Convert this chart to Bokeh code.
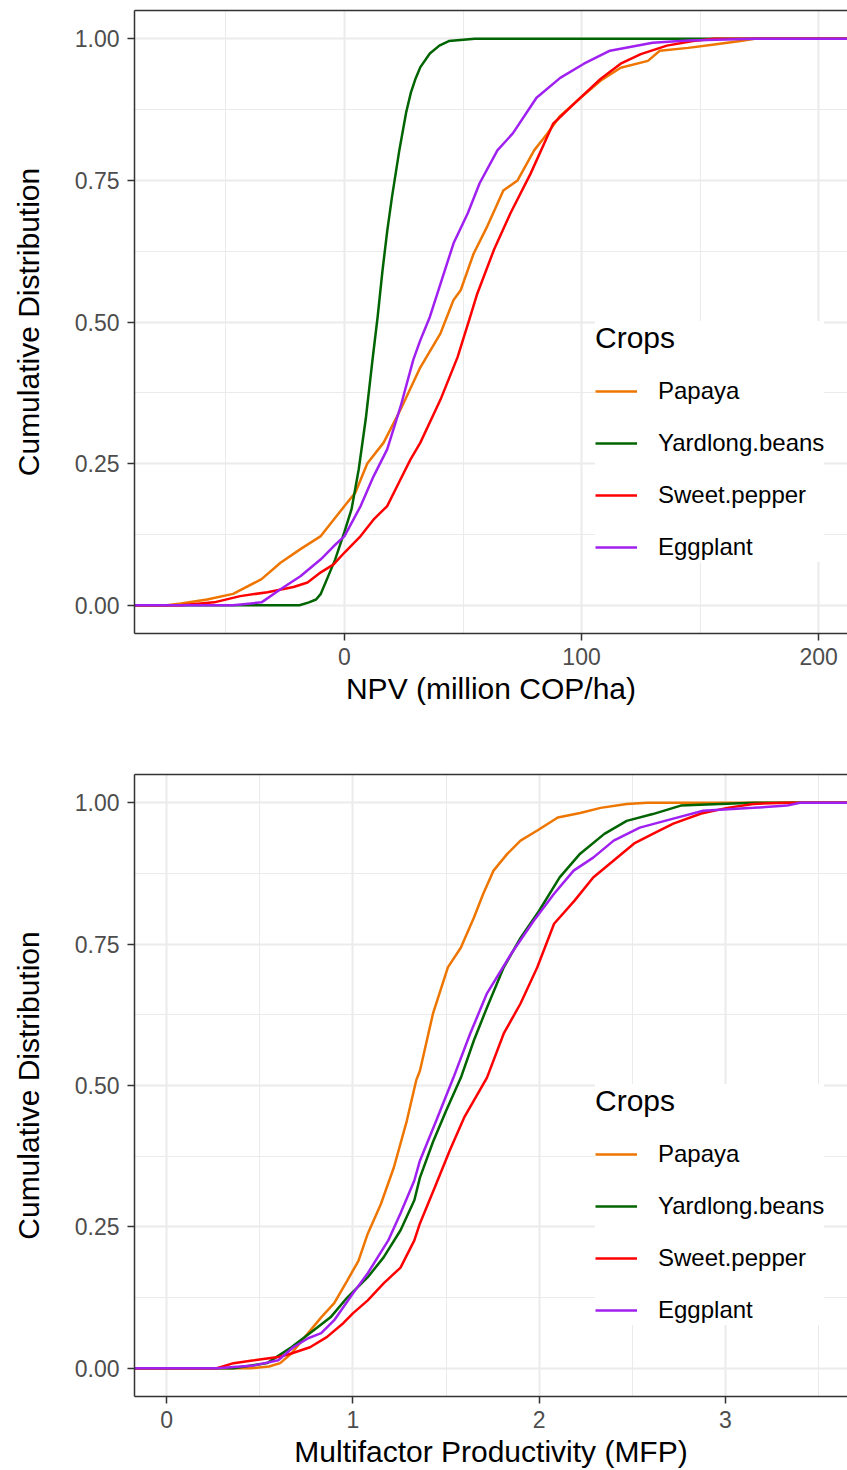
from bokeh.plotting import figure
from bokeh.layouts import column
from bokeh.models import FixedTicker, Range1d, LinearAxis, Legend, LegendItem, NumeralTickFormatter
from bokeh.embed import file_html
from bokeh.resources import INLINE

crops = ["Papaya", "Yardlong.beans", "Sweet.pepper", "Eggplant"]
colors = ["#EE7600", "#006400", "#FF0000", "#A020F0"]

npv_papaya_x = [-100, -75, -69, -58, -47, -35, -27, -18.6, -10, -4.6, 0, 4.6, 9.6, 16.5, 23.6, 32, 40.5, 46, 49, 54.4,
                60, 67, 73, 80, 85.6, 91, 99.6, 108, 116.5, 128, 133, 145, 156, 167, 173, 230]
npv_papaya_y = [0, 0, 0.003, 0.01, 0.02, 0.046, 0.075, 0.099, 0.122, 0.151, 0.175, 0.199, 0.25, 0.287, 0.345, 0.42,
                0.48, 0.539, 0.556, 0.62, 0.667, 0.732, 0.75, 0.803, 0.833, 0.864, 0.896, 0.926, 0.949, 0.961, 0.979,
                0.984, 0.99, 0.996, 1.0, 1.0]
npv_yard_x = [-100, -19, -15, -12, -10, -7, -4, 0, 3, 6, 9, 12, 14, 16, 18, 20, 23, 26, 28, 30, 32, 36, 40, 44, 55, 230]
npv_yard_y = [0, 0, 0.005, 0.01, 0.02, 0.05, 0.08, 0.13, 0.17, 0.24, 0.33, 0.44, 0.51, 0.59, 0.66, 0.72, 0.80, 0.87,
              0.905, 0.93, 0.95, 0.974, 0.988, 0.996, 1.0, 1.0]
npv_pepper_x = [-100, -69, -55, -44, -32.5, -21.5, -15.6, -10, -4.6, 0, 6.8, 12.2, 18, 23.6, 27.8, 32, 40.5, 47.7, 53,
                56, 63, 70, 78.5, 88, 98, 108, 116.5, 125, 136, 147, 156, 230]
npv_pepper_y = [0, 0, 0.005, 0.016, 0.023, 0.032, 0.04, 0.058, 0.072, 0.093, 0.122, 0.151, 0.175, 0.222, 0.257, 0.287,
                0.363, 0.438, 0.509, 0.55, 0.627, 0.692, 0.762, 0.85, 0.89, 0.929, 0.956, 0.973, 0.988, 0.996, 1.0, 1.0]
npv_egg_x = [-100, -47, -35, -27, -18.6, -10, -4.6, 0, 6.8, 12.2, 18, 23.6, 29, 32, 36, 46, 52, 57, 64.5, 71, 81, 91,
             101, 112, 130, 145, 173, 230]
npv_egg_y = [0, 0, 0.005, 0.028, 0.051, 0.081, 0.104, 0.122, 0.175, 0.227, 0.275, 0.35, 0.433, 0.468, 0.509, 0.639,
             0.692, 0.745, 0.803, 0.833, 0.896, 0.931, 0.956, 0.979, 0.993, 0.997, 1.0, 1.0]

# ---- Multifactor Productivity (MFP) empirical CDFs ----
mfp_papaya_x = [-1, 0.45, 0.55, 0.61, 0.67, 0.76, 0.83, 0.9, 0.97, 1.03, 1.08, 1.15, 1.22, 1.29, 1.34, 1.36, 1.43, 1.51,
                1.58, 1.65, 1.70, 1.755, 1.83, 1.9, 1.99, 2.1, 2.22, 2.33, 2.47, 2.58, 4]
mfp_papaya_y = [0, 0, 0.003, 0.009, 0.026, 0.062, 0.09, 0.115, 0.155, 0.19, 0.238, 0.29, 0.355, 0.438, 0.509, 0.526,
                0.627, 0.709, 0.744, 0.797, 0.839, 0.88, 0.91, 0.933, 0.951, 0.974, 0.982, 0.991, 0.998, 1.0, 1.0]
mfp_yard_x = [-1, 0.36, 0.54, 0.67, 0.79, 0.88, 0.97, 1.08, 1.165, 1.256, 1.33, 1.36, 1.43, 1.5, 1.58, 1.65, 1.72, 1.81,
              1.9, 2.0, 2.11, 2.22, 2.35, 2.47, 2.61, 2.76, 2.97, 3.15, 4]
mfp_yard_y = [0, 0, 0.009, 0.037, 0.067, 0.09, 0.125, 0.161, 0.196, 0.244, 0.297, 0.337, 0.40, 0.455, 0.514, 0.58,
              0.638, 0.709, 0.761, 0.809, 0.868, 0.91, 0.945, 0.968, 0.98, 0.995, 0.998, 1.0, 1.0]
mfp_pepper_x = [-1, 0.27, 0.36, 0.47, 0.6, 0.67, 0.77, 0.86, 0.95, 1.0, 1.08, 1.165, 1.256, 1.33, 1.36, 1.44, 1.52, 1.6,
                1.72, 1.81, 1.9, 1.99, 2.08, 2.19, 2.29, 2.4, 2.51, 2.61, 2.72, 2.87, 3.01, 3.15, 3.33, 4]
mfp_pepper_y = [0, 0, 0.009, 0.014, 0.02, 0.026, 0.037, 0.055, 0.08, 0.097, 0.12, 0.15, 0.178, 0.226, 0.256, 0.32,
                0.385, 0.445, 0.514, 0.592, 0.645, 0.709, 0.786, 0.827, 0.868, 0.898, 0.928, 0.945, 0.963, 0.981,
                0.991, 0.998, 1.0, 1.0]
mfp_egg_x = [-1, 0.27, 0.47, 0.6, 0.68, 0.76, 0.83, 0.9, 1.0, 1.08, 1.19, 1.256, 1.33, 1.36, 1.45, 1.54, 1.63, 1.72,
             1.85, 1.97, 2.08, 2.185, 2.29, 2.4, 2.54, 2.72, 2.88, 3.15, 3.33, 3.4, 4]
mfp_egg_y = [0, 0, 0.005, 0.014, 0.037, 0.053, 0.062, 0.085, 0.132, 0.168, 0.226, 0.274, 0.332, 0.367, 0.44, 0.514,
             0.592, 0.663, 0.733, 0.791, 0.839, 0.88, 0.903, 0.933, 0.956, 0.972, 0.986, 0.991, 0.995, 1.0, 1.0]

y_ticks = [0, 0.25, 0.5, 0.75, 1.0]
y_minor = [0.125, 0.375, 0.625, 0.875]
npv_ticks = [0, 100, 200]
npv_minor = [-50, 50, 150]
mfp_ticks = [0, 1, 2, 3]
mfp_minor = [0.5, 1.5, 2.5, 3.5]

FONT = "Liberation Sans"


def make_panel(series, xr, xticks, xminor, xlabel, top_border, bottom_border):
    p = figure(width=847, height=735, output_backend="svg", toolbar_location=None,
               x_range=Range1d(*xr), y_range=Range1d(-0.05, 1.05),
               min_border_left=134, min_border_right=0,
               min_border_top=top_border, min_border_bottom=bottom_border)
    p.outline_line_color = None
    p.background_fill_color = "white"
    p.border_fill_color = "white"

    p.xaxis.ticker = FixedTicker(ticks=xticks, minor_ticks=xminor)
    p.yaxis.ticker = FixedTicker(ticks=y_ticks, minor_ticks=y_minor)
    p.xgrid.ticker = FixedTicker(ticks=xticks, minor_ticks=xminor)
    p.ygrid.ticker = FixedTicker(ticks=y_ticks, minor_ticks=y_minor)
    p.yaxis.formatter = NumeralTickFormatter(format="0.00")

    for g in (p.xgrid, p.ygrid):
        g.grid_line_color = "#EBEBEB"
        g.grid_line_width = 2
        g.minor_grid_line_color = "#EBEBEB"
        g.minor_grid_line_width = 1

    for ax in (p.xaxis, p.yaxis):
        ax.axis_line_color = "#333333"
        ax.axis_line_width = 1.5
        ax.major_tick_line_color = "#333333"
        ax.major_tick_line_width = 1.5
        ax.major_tick_out = 7
        ax.major_tick_in = 0
        ax.minor_tick_line_color = None
        ax.major_label_text_font = FONT
        ax.major_label_text_font_size = "23px"
        ax.major_label_text_color = "#4D4D4D"
        ax.axis_label_text_font = FONT
        ax.axis_label_text_font_size = "30px"
        ax.axis_label_text_font_style = "normal"
        ax.axis_label_text_color = "black"

    p.xaxis.axis_label = xlabel
    p.xaxis.major_label_standoff = 7
    p.xaxis.axis_label_standoff = 4
    p.yaxis.axis_label = "Cumulative Distribution"
    p.yaxis.major_label_standoff = 8
    p.yaxis.axis_label_standoff = 27

    top_ax = LinearAxis(ticker=FixedTicker(ticks=[]), axis_line_color="#333333", axis_line_width=1.5,
                        major_tick_line_color=None, minor_tick_line_color=None,
                        major_label_text_font_size="0px", major_tick_out=0, major_tick_in=0,
                        major_label_standoff=0)
    p.add_layout(top_ax, "above")

    items = []
    for name, col, (xs, ys) in zip(crops, colors, series):
        r = p.line(xs, ys, line_color=col, line_width=2.5)
        items.append(LegendItem(label=name, renderers=[r]))

    legend = Legend(items=items, location=(461, 71), title="Crops",
                    title_text_font=FONT, title_text_font_size="30px", title_text_font_style="normal",
                    title_text_color="black", title_standoff=21,
                    label_text_font=FONT, label_text_font_size="24px", label_text_color="black",
                    glyph_width=42, glyph_height=30, label_height=30, label_standoff=21,
                    spacing=22, padding=21, margin=0,
                    border_line_color=None, background_fill_color="white", background_fill_alpha=1.0)
    p.add_layout(legend)
    return p


p1 = make_panel([(npv_papaya_x, npv_papaya_y), (npv_yard_x, npv_yard_y),
                 (npv_pepper_x, npv_pepper_y), (npv_egg_x, npv_egg_y)],
                (-88.6, 212.2), npv_ticks, npv_minor, "NPV (million COP/ha)", 10, 102)
p2 = make_panel([(mfp_papaya_x, mfp_papaya_y), (mfp_yard_x, mfp_yard_y),
                 (mfp_pepper_x, mfp_pepper_y), (mfp_egg_x, mfp_egg_y)],
                (-0.172, 3.655), mfp_ticks, mfp_minor, "Multifactor Productivity (MFP)", 39, 74)

layout = column(p1, p2, spacing=0)
open("out.html", "w").write(file_html(layout, INLINE))
